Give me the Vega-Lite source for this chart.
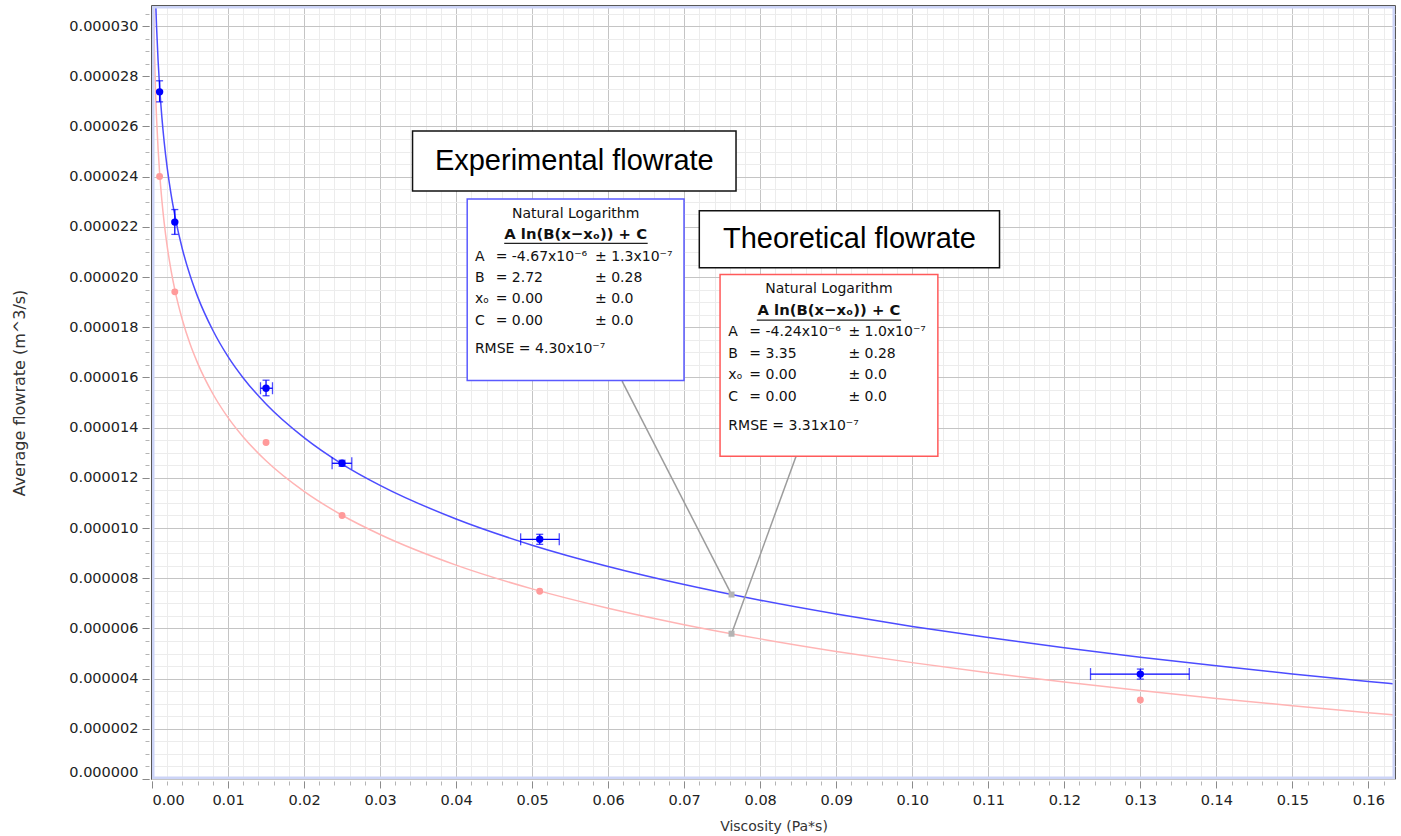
{
  "$schema": "https://vega.github.io/schema/vega-lite/v6.json",
  "width": 1243,
  "height": 773,
  "padding": {"left": 11, "top": 6, "right": 6, "bottom": 2},
  "background": "white",
  "config": {"view": {"stroke": "#222222", "strokeWidth": 1.5}, "font": "DejaVu Sans"},
  "datasets": {
    "experimental": [
      {"viscosity": 0.001, "flowrate": 2.738e-5, "flow_lo": 2.698e-5, "flow_hi": 2.782e-5, "visc_lo": 0.001, "visc_hi": 0.001},
      {"viscosity": 0.003, "flowrate": 2.219e-5, "flow_lo": 2.170e-5, "flow_hi": 2.269e-5, "visc_lo": 0.003, "visc_hi": 0.003},
      {"viscosity": 0.015, "flowrate": 1.557e-5, "flow_lo": 1.527e-5, "flow_hi": 1.589e-5, "visc_lo": 0.01427, "visc_hi": 0.01585},
      {"viscosity": 0.025, "flowrate": 1.258e-5, "flow_lo": 1.246e-5, "flow_hi": 1.270e-5, "visc_lo": 0.02369, "visc_hi": 0.02628},
      {"viscosity": 0.051, "flowrate": 9.55e-6, "flow_lo": 9.35e-6, "flow_hi": 9.75e-6, "visc_lo": 0.04849, "visc_hi": 0.05357},
      {"viscosity": 0.13, "flowrate": 4.18e-6, "flow_lo": 3.98e-6, "flow_hi": 4.38e-6, "visc_lo": 0.12345, "visc_hi": 0.13644}
    ],
    "theoretical": [
      {"viscosity": 0.001, "flowrate": 2.401e-5},
      {"viscosity": 0.003, "flowrate": 1.941e-5},
      {"viscosity": 0.015, "flowrate": 1.341e-5},
      {"viscosity": 0.025, "flowrate": 1.050e-5},
      {"viscosity": 0.051, "flowrate": 7.48e-6},
      {"viscosity": 0.13, "flowrate": 3.15e-6}
    ],
    "fit_experimental": [
      {"viscosity": 0.0004, "flowrate": 3.187e-5},
      {"viscosity": 0.0005, "flowrate": 3.082e-5},
      {"viscosity": 0.0006, "flowrate": 2.997e-5},
      {"viscosity": 0.0008, "flowrate": 2.863e-5},
      {"viscosity": 0.001, "flowrate": 2.759e-5},
      {"viscosity": 0.0013, "flowrate": 2.636e-5},
      {"viscosity": 0.0016, "flowrate": 2.539e-5},
      {"viscosity": 0.002, "flowrate": 2.435e-5},
      {"viscosity": 0.0025, "flowrate": 2.331e-5},
      {"viscosity": 0.003, "flowrate": 2.246e-5},
      {"viscosity": 0.004, "flowrate": 2.111e-5},
      {"viscosity": 0.005, "flowrate": 2.007e-5},
      {"viscosity": 0.006, "flowrate": 1.922e-5},
      {"viscosity": 0.008, "flowrate": 1.788e-5},
      {"viscosity": 0.01, "flowrate": 1.683e-5},
      {"viscosity": 0.012, "flowrate": 1.598e-5},
      {"viscosity": 0.015, "flowrate": 1.494e-5},
      {"viscosity": 0.02, "flowrate": 1.360e-5},
      {"viscosity": 0.025, "flowrate": 1.255e-5},
      {"viscosity": 0.03, "flowrate": 1.170e-5},
      {"viscosity": 0.04, "flowrate": 1.036e-5},
      {"viscosity": 0.05, "flowrate": 9.317e-6},
      {"viscosity": 0.06, "flowrate": 8.466e-6},
      {"viscosity": 0.07, "flowrate": 7.746e-6},
      {"viscosity": 0.08, "flowrate": 7.122e-6},
      {"viscosity": 0.09, "flowrate": 6.572e-6},
      {"viscosity": 0.1, "flowrate": 6.080e-6},
      {"viscosity": 0.11, "flowrate": 5.635e-6},
      {"viscosity": 0.12, "flowrate": 5.229e-6},
      {"viscosity": 0.13, "flowrate": 4.855e-6},
      {"viscosity": 0.14, "flowrate": 4.509e-6},
      {"viscosity": 0.15, "flowrate": 4.187e-6},
      {"viscosity": 0.16, "flowrate": 3.885e-6},
      {"viscosity": 0.1635, "flowrate": 3.785e-6}
    ],
    "fit_theoretical": [
      {"viscosity": 0.0002, "flowrate": 3.099e-5},
      {"viscosity": 0.0003, "flowrate": 2.927e-5},
      {"viscosity": 0.0004, "flowrate": 2.805e-5},
      {"viscosity": 0.0005, "flowrate": 2.710e-5},
      {"viscosity": 0.0006, "flowrate": 2.633e-5},
      {"viscosity": 0.0008, "flowrate": 2.511e-5},
      {"viscosity": 0.001, "flowrate": 2.416e-5},
      {"viscosity": 0.0013, "flowrate": 2.305e-5},
      {"viscosity": 0.0016, "flowrate": 2.217e-5},
      {"viscosity": 0.002, "flowrate": 2.122e-5},
      {"viscosity": 0.0025, "flowrate": 2.028e-5},
      {"viscosity": 0.003, "flowrate": 1.950e-5},
      {"viscosity": 0.004, "flowrate": 1.829e-5},
      {"viscosity": 0.005, "flowrate": 1.734e-5},
      {"viscosity": 0.006, "flowrate": 1.657e-5},
      {"viscosity": 0.008, "flowrate": 1.535e-5},
      {"viscosity": 0.01, "flowrate": 1.440e-5},
      {"viscosity": 0.012, "flowrate": 1.363e-5},
      {"viscosity": 0.015, "flowrate": 1.268e-5},
      {"viscosity": 0.02, "flowrate": 1.146e-5},
      {"viscosity": 0.025, "flowrate": 1.051e-5},
      {"viscosity": 0.03, "flowrate": 9.742e-6},
      {"viscosity": 0.04, "flowrate": 8.522e-6},
      {"viscosity": 0.05, "flowrate": 7.576e-6},
      {"viscosity": 0.06, "flowrate": 6.803e-6},
      {"viscosity": 0.07, "flowrate": 6.149e-6},
      {"viscosity": 0.08, "flowrate": 5.583e-6},
      {"viscosity": 0.09, "flowrate": 5.083e-6},
      {"viscosity": 0.1, "flowrate": 4.637e-6},
      {"viscosity": 0.11, "flowrate": 4.233e-6},
      {"viscosity": 0.12, "flowrate": 3.864e-6},
      {"viscosity": 0.13, "flowrate": 3.524e-6},
      {"viscosity": 0.14, "flowrate": 3.210e-6},
      {"viscosity": 0.15, "flowrate": 2.918e-6},
      {"viscosity": 0.16, "flowrate": 2.644e-6},
      {"viscosity": 0.1635, "flowrate": 2.552e-6}
    ],
    "callouts": [
      {"text": "Experimental flowrate", "x_lo": 0.03427, "x_hi": 0.07682, "y_lo": 2.3424e-5, "y_hi": 2.5815e-5, "cx": 0.05555, "cy": 2.4619e-5},
      {"text": "Theoretical flowrate", "x_lo": 0.07199, "x_hi": 0.11148, "y_lo": 2.0367e-5, "y_hi": 2.2639e-5, "cx": 0.09174, "cy": 2.1503e-5}
    ],
    "fit_boxes": [
      {"series": "Experimental", "x_lo": 0.04146, "x_hi": 0.06998, "y_lo": 1.5879e-5, "y_hi": 2.3105e-5, "cx": 0.05572, "title_y": 2.2507e-5, "formula_y": 2.1670e-5, "ul_lo": 0.04633, "ul_hi": 0.06520, "ul_y": 2.1339e-5},
      {"series": "Theoretical", "x_lo": 0.07472, "x_hi": 0.10337, "y_lo": 1.2862e-5, "y_hi": 2.0104e-5, "cx": 0.08904, "title_y": 1.9506e-5, "formula_y": 1.8653e-5, "ul_lo": 0.07955, "ul_hi": 0.09854, "ul_y": 1.8282e-5}
    ],
    "fit_lines": [
      {"x": 0.04247, "y": 2.0805e-5, "text": "A"},
      {"x": 0.04247, "y": 1.9968e-5, "text": "B"},
      {"x": 0.04247, "y": 1.9107e-5, "text": "xₒ"},
      {"x": 0.04247, "y": 1.8254e-5, "text": "C"},
      {"x": 0.04247, "y": 1.7114e-5, "text": "RMSE = 4.30x10⁻⁷"},
      {"x": 0.04520, "y": 2.0805e-5, "text": "= -4.67x10⁻⁶"},
      {"x": 0.04520, "y": 1.9968e-5, "text": "= 2.72"},
      {"x": 0.04520, "y": 1.9107e-5, "text": "= 0.00"},
      {"x": 0.04520, "y": 1.8254e-5, "text": "= 0.00"},
      {"x": 0.05827, "y": 2.0805e-5, "text": "± 1.3x10⁻⁷"},
      {"x": 0.05827, "y": 1.9968e-5, "text": "± 0.28"},
      {"x": 0.05827, "y": 1.9107e-5, "text": "± 0.0"},
      {"x": 0.05827, "y": 1.8254e-5, "text": "± 0.0"},
      {"x": 0.07581, "y": 1.7816e-5, "text": "A"},
      {"x": 0.07581, "y": 1.6915e-5, "text": "B"},
      {"x": 0.07581, "y": 1.6090e-5, "text": "xₒ"},
      {"x": 0.07581, "y": 1.5225e-5, "text": "C"},
      {"x": 0.07581, "y": 1.4069e-5, "text": "RMSE = 3.31x10⁻⁷"},
      {"x": 0.07857, "y": 1.7816e-5, "text": "= -4.24x10⁻⁶"},
      {"x": 0.07857, "y": 1.6915e-5, "text": "= 3.35"},
      {"x": 0.07857, "y": 1.6090e-5, "text": "= 0.00"},
      {"x": 0.07857, "y": 1.5225e-5, "text": "= 0.00"},
      {"x": 0.09160, "y": 1.7816e-5, "text": "± 1.0x10⁻⁷"},
      {"x": 0.09160, "y": 1.6915e-5, "text": "± 0.28"},
      {"x": 0.09160, "y": 1.6090e-5, "text": "± 0.0"},
      {"x": 0.09160, "y": 1.5225e-5, "text": "± 0.0"}
    ],
    "leaders": [
      {"x_from": 0.06183, "y_from": 1.5851e-5, "x_to": 0.07623, "y_to": 7.349e-6},
      {"x_from": 0.08472, "y_from": 1.2862e-5, "x_to": 0.07623, "y_to": 5.789e-6}
    ]
  },
  "layer": [
    {
      "data": {"name": "fit_theoretical"},
      "mark": {"type": "line", "color": "#ffb4b4", "strokeWidth": 1.5, "clip": true, "interpolate": "monotone"},
      "encoding": {
        "x": {"field": "viscosity", "type": "quantitative", "scale": {"domain": [0, 0.1635], "nice": false, "zero": false},
          "axis": {"orient": "bottom", "offset": 2, "title": null, "labels": false, "domain": false, "grid": true, "gridColor": "#ececec", "tickCount": 82, "tickSize": 4, "tickColor": "#b4b4b4"}},
        "y": {"field": "flowrate", "type": "quantitative", "scale": {"domain": [0, 3.08e-5], "nice": false, "zero": false},
          "axis": {"orient": "left", "offset": 3, "title": null, "labels": false, "domain": false, "grid": true, "gridColor": "#ececec", "tickCount": 62, "tickSize": 4, "tickColor": "#b4b4b4"}}
      }
    },
    {
      "data": {"name": "fit_experimental"},
      "mark": {"type": "line", "color": "#4c4cff", "strokeWidth": 1.5, "clip": true, "interpolate": "monotone"},
      "encoding": {
        "x": {"field": "viscosity", "type": "quantitative",
          "axis": {"orient": "bottom", "offset": 2, "title": "Viscosity (Pa*s)", "titleFont": "DejaVu Sans", "titleFontSize": 14, "titleFontWeight": "normal", "titleColor": "#333333", "titlePadding": 13,
            "format": ".2f", "tickCount": 17, "labelFont": "DejaVu Sans", "labelFontSize": 14.5, "labelColor": "#222222", "labelFlush": true, "labelPadding": 5, "labelOverlap": false,
            "tickSize": 7, "tickColor": "#8a8a8a", "domain": false, "grid": true, "gridColor": "#c4c4c4"}},
        "y": {"field": "flowrate", "type": "quantitative",
          "axis": {"orient": "left", "offset": 3, "title": "Average flowrate (m^3/s)", "titleFont": "DejaVu Sans", "titleFontSize": 16, "titleFontWeight": "normal", "titleColor": "#333333", "titlePadding": 41,
            "format": ".6f", "tickCount": 16, "labelFont": "DejaVu Sans", "labelFontSize": 14.5, "labelColor": "#222222", "labelFlush": true, "labelPadding": 4, "labelOverlap": false,
            "tickSize": 7, "tickColor": "#8a8a8a", "domain": false, "grid": true, "gridColor": "#c4c4c4"}}
      }
    },
    {
      "data": {"values": [{"x_lo": 0, "x_hi": 0.1635, "y_lo": 0, "y_hi": 3.08e-5}]},
      "mark": {"type": "rect", "fill": null, "stroke": "#ccd4f7", "strokeWidth": 5, "clip": true},
      "encoding": {
        "x": {"field": "x_lo", "type": "quantitative", "axis": null},
        "x2": {"field": "x_hi"},
        "y": {"field": "y_lo", "type": "quantitative", "axis": null},
        "y2": {"field": "y_hi"}
      }
    },
    {
      "data": {"name": "leaders"},
      "mark": {"type": "rule", "color": "#9c9c9c", "strokeWidth": 1.5},
      "encoding": {
        "x": {"field": "x_from", "type": "quantitative", "axis": null},
        "y": {"field": "y_from", "type": "quantitative", "axis": null},
        "x2": {"field": "x_to"},
        "y2": {"field": "y_to"}
      }
    },
    {
      "data": {"name": "leaders"},
      "mark": {"type": "point", "shape": "square", "filled": true, "color": "#b4b4b4", "size": 36, "opacity": 1},
      "encoding": {
        "x": {"field": "x_to", "type": "quantitative", "axis": null},
        "y": {"field": "y_to", "type": "quantitative", "axis": null}
      }
    },
    {
      "data": {"name": "theoretical"},
      "mark": {"type": "circle", "color": "#ff9a9a", "size": 48, "opacity": 1},
      "encoding": {
        "x": {"field": "viscosity", "type": "quantitative", "axis": null},
        "y": {"field": "flowrate", "type": "quantitative", "axis": null}
      }
    },
    {
      "data": {"name": "experimental"},
      "mark": {"type": "errorbar", "color": "#0000ff", "ticks": true, "size": 7, "thickness": 1.3},
      "encoding": {
        "x": {"field": "viscosity", "type": "quantitative", "axis": null},
        "y": {"field": "flow_lo", "type": "quantitative", "axis": null},
        "y2": {"field": "flow_hi"}
      }
    },
    {
      "data": {"name": "experimental"},
      "transform": [{"filter": "datum.visc_hi > datum.visc_lo"}],
      "mark": {"type": "errorbar", "color": "#0000ff", "ticks": true, "size": 12, "thickness": 1.3},
      "encoding": {
        "y": {"field": "flowrate", "type": "quantitative", "axis": null},
        "x": {"field": "visc_lo", "type": "quantitative", "axis": null},
        "x2": {"field": "visc_hi"}
      }
    },
    {
      "data": {"name": "experimental"},
      "mark": {"type": "circle", "color": "#0000ff", "size": 55, "opacity": 1},
      "encoding": {
        "x": {"field": "viscosity", "type": "quantitative", "axis": null},
        "y": {"field": "flowrate", "type": "quantitative", "axis": null}
      }
    },
    {
      "data": {"name": "callouts"},
      "mark": {"type": "rect", "fill": "white", "stroke": "#111111", "strokeWidth": 1.5},
      "encoding": {
        "x": {"field": "x_lo", "type": "quantitative", "axis": null},
        "x2": {"field": "x_hi"},
        "y": {"field": "y_lo", "type": "quantitative", "axis": null},
        "y2": {"field": "y_hi"}
      }
    },
    {
      "data": {"name": "callouts"},
      "mark": {"type": "text", "font": "Liberation Sans", "fontSize": 29, "color": "#000000", "align": "center", "baseline": "middle"},
      "encoding": {
        "x": {"field": "cx", "type": "quantitative", "axis": null},
        "y": {"field": "cy", "type": "quantitative", "axis": null},
        "text": {"field": "text"}
      }
    },
    {
      "data": {"name": "fit_boxes"},
      "mark": {"type": "rect", "fill": "white", "strokeWidth": 1.5},
      "encoding": {
        "x": {"field": "x_lo", "type": "quantitative", "axis": null},
        "x2": {"field": "x_hi"},
        "y": {"field": "y_lo", "type": "quantitative", "axis": null},
        "y2": {"field": "y_hi"},
        "stroke": {"field": "series", "type": "nominal", "scale": {"domain": ["Experimental", "Theoretical"], "range": ["#5a5aff", "#ff5a5a"]}, "legend": null}
      }
    },
    {
      "data": {"name": "fit_boxes"},
      "mark": {"type": "text", "text": "Natural Logarithm", "font": "DejaVu Sans", "fontSize": 14, "color": "#111111", "align": "center", "baseline": "middle"},
      "encoding": {
        "x": {"field": "cx", "type": "quantitative", "axis": null},
        "y": {"field": "title_y", "type": "quantitative", "axis": null}
      }
    },
    {
      "data": {"name": "fit_boxes"},
      "mark": {"type": "text", "text": "A ln(B(x−xₒ)) + C", "font": "DejaVu Sans", "fontSize": 14.8, "fontWeight": "bold", "color": "#111111", "align": "center", "baseline": "middle"},
      "encoding": {
        "x": {"field": "cx", "type": "quantitative", "axis": null},
        "y": {"field": "formula_y", "type": "quantitative", "axis": null}
      }
    },
    {
      "data": {"name": "fit_boxes"},
      "mark": {"type": "rule", "color": "#222222", "strokeWidth": 1.2},
      "encoding": {
        "x": {"field": "ul_lo", "type": "quantitative", "axis": null},
        "x2": {"field": "ul_hi"},
        "y": {"field": "ul_y", "type": "quantitative", "axis": null}
      }
    },
    {
      "data": {"name": "fit_lines"},
      "mark": {"type": "text", "font": "DejaVu Sans", "fontSize": 14, "color": "#111111", "align": "left", "baseline": "middle"},
      "encoding": {
        "x": {"field": "x", "type": "quantitative", "axis": null},
        "y": {"field": "y", "type": "quantitative", "axis": null},
        "text": {"field": "text"}
      }
    }
  ],
  "resolve": {"axis": {"x": "independent", "y": "independent"}}
}
